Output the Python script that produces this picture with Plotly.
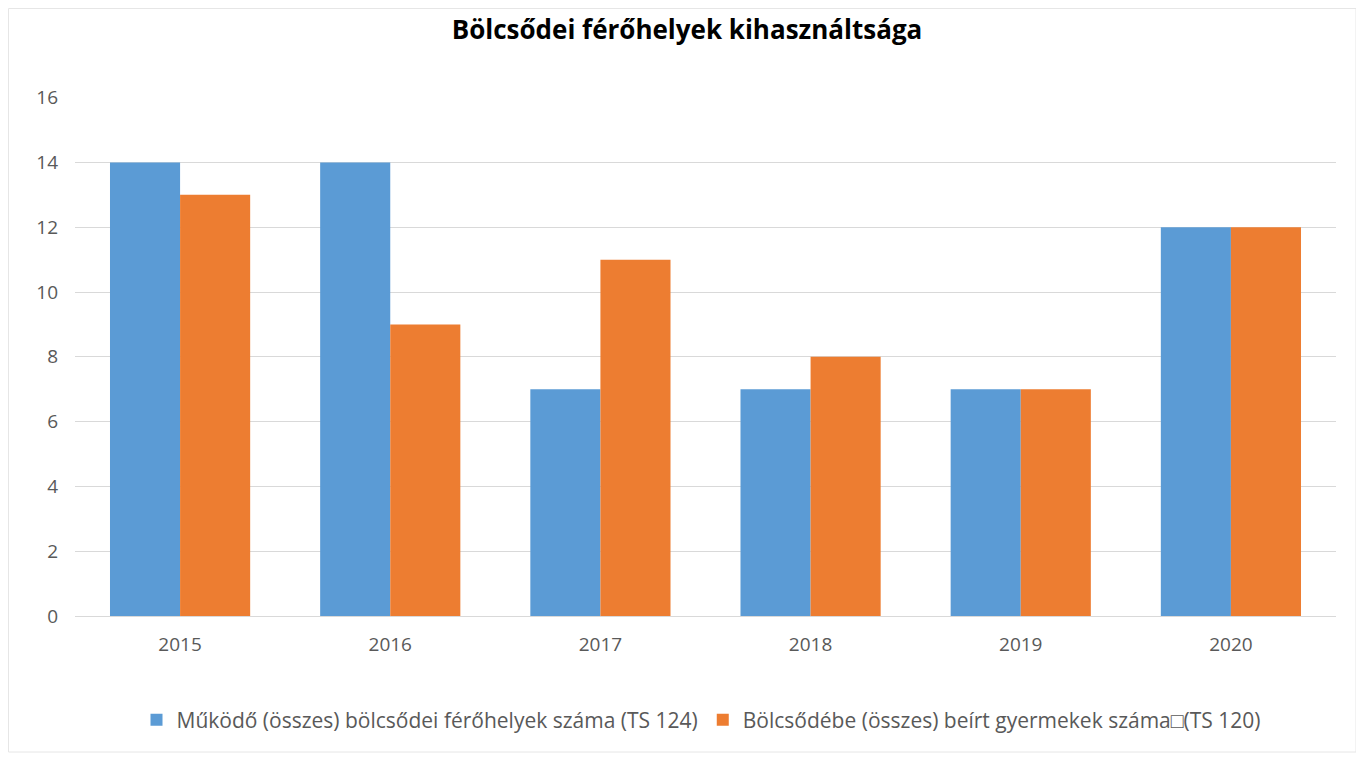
import plotly.graph_objects as go

years = ["2015", "2016", "2017", "2018", "2019", "2020"]
ferohelyek = [14, 14, 7, 7, 7, 12]
beirt = [13, 9, 11, 8, 7, 12]
name1 = "Működő (összes) bölcsődei férőhelyek száma (TS 124)"
name2 = "Bölcsődébe (összes) beírt gyermekek száma\u25a1(TS 120)"
yticks = [0, 2, 4, 6, 8, 10, 12, 14, 16]

FONT = "Open Sans, sans-serif"

fig = go.Figure()
fig.add_trace(go.Bar(x=years, y=ferohelyek, name=name1, marker=dict(color="#5b9bd5", line_width=0)))
fig.add_trace(go.Bar(x=years, y=beirt, name=name2, marker=dict(color="#ed7d31", line_width=0)))

# page offset (body margin) of 8 px
OFF = 8
W, H = 1356, 749
L, T = 75 - OFF, 97 - OFF
pw, ph = 1261, 519
R = W - L - pw
B = H - T - ph

def px(x):
    return (x - OFF - L) / pw

def py(y):
    return (H - B - (y - OFF)) / ph

fig.update_layout(
    width=W, height=H,
    margin=dict(l=L, r=R, t=T, b=B, autoexpand=False),
    paper_bgcolor="white", plot_bgcolor="white",
    barmode="group", bargap=0.333, bargroupgap=0,
    title=dict(text="<b>Bölcsődei férőhelyek kihasználtsága</b>", x=px(687), xref="paper",
               xanchor="center", y=1 - (30 - OFF) / H, yref="container", yanchor="middle",
               font=dict(family=FONT, size=26, color="#000000")),
    font=dict(family=FONT, size=19, color="#595959"),
    xaxis=dict(showgrid=False, showline=False, ticks="", tickfont=dict(size=19, color="#595959"),
               ticklabelstandoff=15),
    yaxis=dict(range=[0, 16.02], tickvals=yticks, showgrid=True, gridcolor="#d9d9d9", gridwidth=1,
               zeroline=True, zerolinecolor="#d9d9d9", zerolinewidth=1, showline=False, ticks="",
               tickfont=dict(size=19, color="#595959"), ticklabelstandoff=16),
    legend=dict(orientation="h", x=px(701), xref="paper", xanchor="center",
                y=py(720), yanchor="middle", font=dict(size=21, color="#595959"),
                tracegroupgap=0, itemwidth=30),
    showlegend=True,
    shapes=[dict(type="rect", xref="paper", yref="paper", x0=px(8.5), x1=px(1356), y0=py(752), y1=py(8.5),
                 line=dict(color="#e6e6e6", width=1), layer="below")],
)

fig.write_html("out.html")
